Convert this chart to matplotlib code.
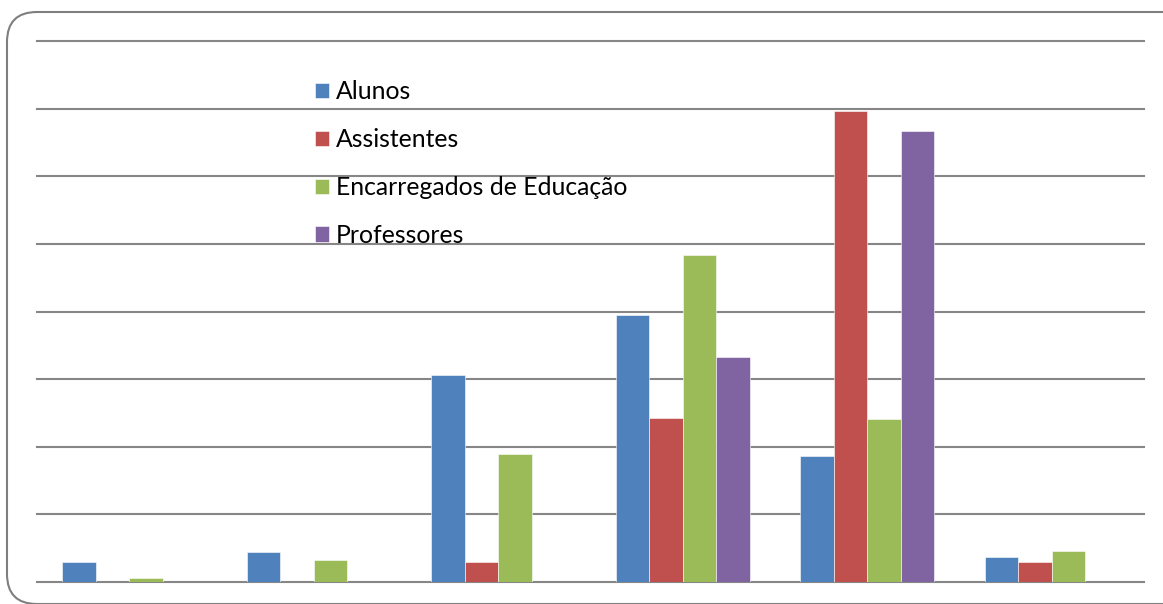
import matplotlib.pyplot as plt
import numpy as np
from matplotlib.patches import FancyBboxPatch

# percentages per response category (6 categories, left to right)
categories = ["1", "2", "3", "4", "5", "6"]
alunos = [3.0, 4.4, 30.6, 39.5, 18.6, 3.7]
assistentes = [0.0, 0.0, 3.0, 24.2, 69.7, 3.0]
encarregados = [0.6, 3.3, 18.9, 48.4, 24.1, 4.6]
professores = [0.0, 0.0, 0.0, 33.3, 66.7, 0.0]

series = [
    ("Alunos", alunos, "#4F81BD"),
    ("Assistentes", assistentes, "#C0504D"),
    ("Encarregados de Educação", encarregados, "#9BBB59"),
    ("Professores", professores, "#8064A2"),
]

plt.rcParams["font.family"] = ["Lato", "DejaVu Sans"]

W, H = 1163, 604
fig = plt.figure(figsize=(W / 100, H / 100), dpi=100)
ax = fig.add_axes([37 / W, (H - 582) / H, (1144 - 37) / W, (582 - 41) / H])

x = np.arange(len(categories))
width = 1 / 5.5
for i, (label, vals, color) in enumerate(series):
    ax.bar(x - 1.5 * width + i * width, vals, width, color=color,
           label=label, edgecolor="white", linewidth=0.4, zorder=3)

ax.set_xlim(-0.5, len(categories) - 0.5)
ax.set_ylim(0, 80)
ax.set_yticks(np.arange(0, 81, 10))
ax.yaxis.grid(True, color="#868686", linewidth=1.5, zorder=0)
for gl in ax.get_ygridlines():
    gl.set_clip_on(False)
ax.tick_params(left=False, bottom=False, labelleft=False, labelbottom=False)
for s in ax.spines.values():
    s.set_visible(False)

leg = ax.legend(loc="upper left", bbox_to_anchor=((315 - 37) / (1144 - 37), 1 - (80 - 41) / (582 - 41)),
                frameon=False, fontsize=17.8, handlelength=0.58, handleheight=0.58,
                handletextpad=0.25, labelspacing=1.01, borderaxespad=0, borderpad=0)

# rounded chart-area border
border = FancyBboxPatch((0.07, 0.0), 12.0, 5.92,
                        boxstyle="round,pad=0,rounding_size=0.3",
                        transform=fig.dpi_scale_trans, facecolor="none",
                        edgecolor="#7f7f7f", linewidth=1.5, clip_on=False)
fig.patches.append(border)

fig.savefig("out.png", dpi=100)
